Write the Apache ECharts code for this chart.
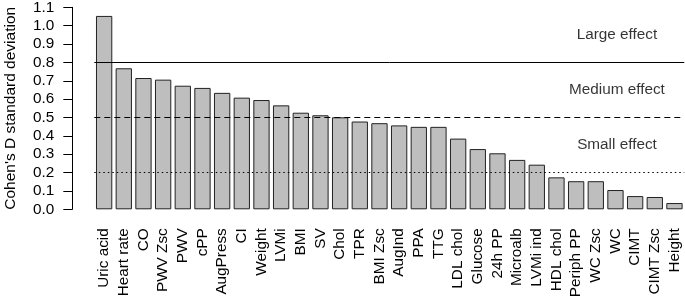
<!DOCTYPE html>
<html>
<head>
<meta charset="utf-8">
<script src="https://cdn.jsdelivr.net/npm/echarts@6/dist/echarts.min.js"></script>
<style>
html,body{margin:0;padding:0;background:#fff;}
#chart{width:685px;height:298px;}
</style>
</head>
<body>
<div id="chart"></div>
<script>
const categories = ["Uric acid","Heart rate","CO","PWV Zsc","PWV","cPP","AugPress","CI","Weight","LVMi","BMI","SV","Chol","TPR","BMI Zsc","AugInd","PPA","TTG","LDL chol","Glucose","24h PP","Microalb","LVMi ind","HDL chol","Periph PP","WC Zsc","WC","CIMT","CIMT Zsc","Height"];
const cohenD = [1.053,0.768,0.715,0.706,0.673,0.661,0.634,0.608,0.595,0.566,0.526,0.512,0.501,0.478,0.469,0.457,0.449,0.449,0.385,0.328,0.305,0.269,0.243,0.174,0.153,0.153,0.105,0.072,0.067,0.034];
const thresholds = [0.8, 0.5, 0.2];
const thresholdStyles = ["solid", [6,4], [1.5,3]];
const effectLabels = ["Large effect","Medium effect","Small effect"];
const effectLabelY = [0.95, 0.65, 0.35];
const effectLabelCat = "WC";
const yTicks = ["0.0","0.1","0.2","0.3","0.4","0.5","0.6","0.7","0.8","0.9","1.0","1.1"];

const FONT = "Liberation Sans, Arial, sans-serif";
const chart = echarts.init(document.getElementById('chart'), null, {renderer:'canvas'});
chart.setOption({
  animation:false,
  backgroundColor:'#ffffff',
  grid:{left:94.3, right:0.7, top:7.3, bottom:88.7, containLabel:false, outerBoundsMode:'none'},
  xAxis:{
    type:'category', data:categories, boundaryGap:true,
    axisLine:{show:false}, axisTick:{show:false},
    axisLabel:{rotate:90, interval:0, margin:19, color:'#000', fontSize:15.3, fontFamily:FONT}
  },
  yAxis:{
    type:'value', min:0, max:1.1, interval:0.1, offset:22,
    name:"Cohen's D standard deviation", nameLocation:'middle', nameGap:54,
    nameTextStyle:{color:'#000', fontSize:15.5, fontFamily:FONT},
    splitLine:{show:false},
    axisLine:{show:true, lineStyle:{color:'#000', width:1}},
    axisTick:{show:true, length:9, lineStyle:{color:'#000'}},
    axisLabel:{margin:18, color:'#000', fontSize:15.3, fontFamily:FONT,
      formatter:function(v){ return yTicks[Math.round(v*10)] || v.toFixed(1); }}
  },
  series:[
    {
      type:'bar', data:cohenD, barWidth:16.3,
      itemStyle:{color:'#bebebe', borderColor:'#222', borderWidth:1},
      markLine:{
        silent:true, symbol:'none', label:{show:false},
        data: thresholds.map((t,i)=>({yAxis:t, lineStyle:{type:thresholdStyles[i], color:'#000', width:1}}))
      },
      z:2
    },
    {
      type:'scatter', symbolSize:0,
      data: effectLabels.map((s,i)=>({value:[effectLabelCat, effectLabelY[i]], name:s})),
      label:{show:true, position:'inside', offset:[1.5,0], formatter:p=>p.name, color:'#000', fontSize:15.3, fontFamily:FONT},
      z:5
    }
  ]
});
</script>
</body>
</html>
